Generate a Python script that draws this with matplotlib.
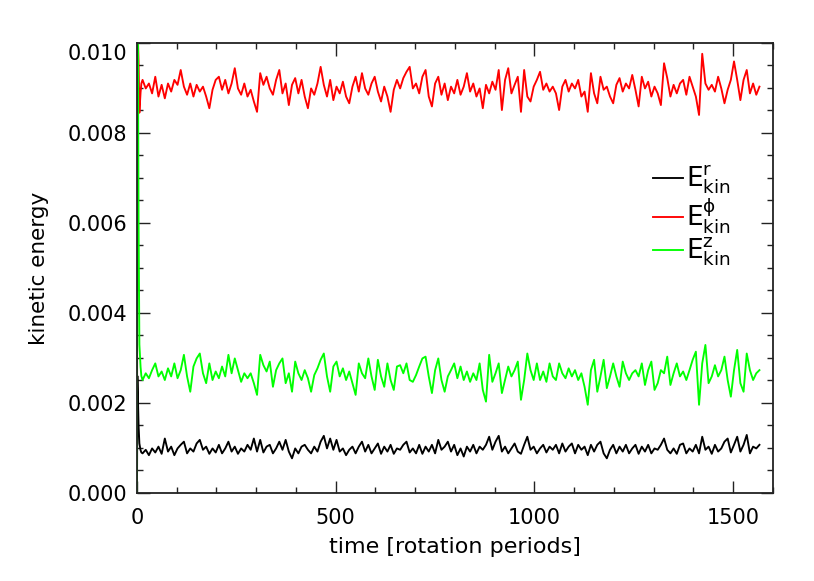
import numpy as np
import matplotlib
matplotlib.use("Agg")
import matplotlib.pyplot as plt
from matplotlib.transforms import ScaledTranslation

# start-up transient (time in rotation periods, energies in units of 1e-3)
t_start = [0, 1, 2, 4, 6, 9, 11]
ekin_r_start = [0.0, 2.6, 2.2, 1.5, 1.1, 0.95, 0.9]
ekin_phi_start = [0.0, 10.5, 10.2, 9.6, 8.45, 8.9, 9.1]
ekin_z_start = [0.0, 14.0, 11.0, 6.0, 3.3, 2.8, 2.6]

# saturated phase, sampled every 8 rotation periods from t=14 to t=1566
t_sat = np.arange(14, 1567, 8)

ekin_r = [
    0.88, 0.96, 0.84, 0.99, 0.90, 1.03, 0.87, 1.21, 0.92, 1.03,
    0.84, 0.99, 1.07, 1.14, 0.88, 0.99, 0.92, 1.10, 1.18, 0.96,
    1.03, 0.87, 0.99, 0.90, 1.07, 0.88, 0.99, 1.14, 0.92, 1.03,
    0.87, 0.99, 0.92, 1.07, 0.96, 1.21, 0.92, 1.18, 0.90, 1.03,
    1.07, 0.88, 0.99, 1.14, 0.96, 1.18, 0.92, 0.77, 0.99, 0.88,
    1.03, 1.07, 0.96, 0.88, 1.03, 0.92, 1.14, 1.27, 0.99, 1.21,
    0.96, 1.18, 0.92, 0.99, 0.84, 0.96, 1.03, 0.88, 1.03, 1.14,
    0.92, 1.07, 0.88, 0.99, 1.10, 0.87, 1.03, 0.92, 1.07, 0.87,
    0.99, 0.96, 1.07, 1.14, 0.90, 0.99, 0.88, 1.07, 0.87, 1.03,
    0.92, 1.07, 0.88, 1.18, 0.96, 1.03, 1.14, 0.92, 1.07, 0.84,
    0.99, 0.81, 1.03, 0.92, 1.07, 0.88, 1.03, 0.96, 1.07, 1.25,
    0.96, 1.14, 1.27, 0.92, 1.03, 0.88, 0.99, 1.10, 0.92, 0.87,
    1.07, 1.25, 0.96, 1.03, 0.88, 0.99, 1.07, 0.90, 1.03, 0.96,
    1.07, 0.88, 1.10, 0.92, 1.03, 1.10, 0.88, 1.07, 0.96, 1.03,
    0.84, 1.07, 0.92, 1.07, 1.14, 0.88, 0.77, 0.96, 1.07, 0.88,
    1.03, 0.92, 1.07, 0.88, 0.99, 1.07, 0.87, 1.03, 0.92, 1.07,
    0.88, 0.99, 0.96, 1.07, 1.21, 0.96, 0.88, 0.99, 0.87, 1.07,
    1.10, 0.88, 0.99, 0.92, 1.07, 0.88, 1.25, 0.96, 1.03, 0.87,
    1.07, 0.92, 0.99, 1.14, 1.21, 0.90, 1.07, 1.25, 0.92, 1.07,
    1.29, 0.88, 1.03, 0.99, 1.07,
]

ekin_phi = [
    9.18, 8.99, 9.10, 8.88, 9.25, 8.81, 9.07, 8.77, 9.10, 8.92,
    9.18, 9.07, 9.40, 9.03, 8.85, 9.10, 8.81, 9.07, 8.92, 9.03,
    8.81, 8.55, 8.96, 9.18, 9.25, 8.96, 9.18, 8.88, 9.10, 9.44,
    8.99, 8.85, 9.10, 8.81, 8.96, 8.70, 8.47, 9.33, 9.07, 9.25,
    8.99, 8.85, 9.18, 9.40, 8.88, 9.10, 8.62, 9.07, 9.22, 8.88,
    9.18, 8.81, 8.55, 8.99, 8.85, 9.10, 9.47, 9.07, 8.81, 9.18,
    8.73, 9.03, 8.88, 9.14, 8.81, 8.66, 9.03, 9.25, 8.92, 9.33,
    8.99, 8.85, 9.10, 9.25, 8.92, 8.70, 9.03, 8.81, 8.47, 8.96,
    9.18, 8.99, 9.22, 9.36, 9.47, 8.99, 9.10, 8.88, 9.25, 9.40,
    8.81, 8.59, 9.10, 9.25, 8.85, 9.10, 8.73, 9.03, 8.88, 9.18,
    8.85, 9.03, 9.33, 8.92, 9.10, 8.81, 8.99, 8.55, 9.07, 8.88,
    9.14, 8.96, 9.40, 8.51, 9.18, 9.44, 8.88, 9.07, 9.25, 8.47,
    9.40, 8.81, 8.70, 9.03, 9.18, 9.36, 8.96, 9.10, 8.92, 9.03,
    8.88, 8.51, 9.03, 9.18, 8.92, 9.10, 8.99, 9.18, 8.81, 8.92,
    8.47, 9.33, 8.88, 8.66, 9.25, 8.96, 9.03, 8.81, 8.66, 9.07,
    9.22, 8.92, 9.10, 8.99, 9.29, 8.96, 8.59, 9.25, 8.99, 9.14,
    8.81, 9.03, 8.88, 8.62, 9.55, 9.22, 8.81, 9.07, 8.88, 9.10,
    9.18, 8.85, 9.25, 9.03, 8.81, 8.40, 9.76, 9.10, 8.96, 9.07,
    8.92, 9.25, 8.99, 8.66, 8.96, 9.18, 9.59, 9.18, 8.73, 9.18,
    9.40, 8.88, 9.10, 8.85, 9.03,
]

ekin_z = [
    2.51, 2.66, 2.55, 2.73, 2.88, 2.59, 2.70, 2.51, 2.77, 2.59,
    2.88, 2.55, 2.73, 3.07, 2.59, 2.25, 2.81, 2.99, 3.10, 2.66,
    2.44, 2.88, 2.51, 2.70, 2.55, 2.81, 2.59, 3.07, 2.66, 2.99,
    2.73, 2.47, 2.66, 2.55, 2.66, 2.44, 2.18, 3.07, 2.84, 2.70,
    2.92, 2.36, 2.73, 2.88, 2.99, 2.44, 2.66, 2.25, 2.92, 2.66,
    2.51, 2.73, 2.55, 2.25, 2.62, 2.77, 2.96, 3.10, 2.59, 2.25,
    2.81, 2.92, 2.59, 2.77, 2.51, 2.70, 2.44, 2.18, 2.88, 2.66,
    2.55, 2.99, 2.59, 2.29, 2.96, 2.59, 2.36, 2.88, 2.51, 2.29,
    2.81, 2.84, 2.66, 2.88, 2.51, 2.47, 2.62, 2.81, 2.99, 3.03,
    2.59, 2.22, 2.73, 2.99, 2.51, 2.25, 2.59, 2.73, 2.88, 2.55,
    2.81, 2.51, 2.70, 2.47, 2.66, 2.51, 2.88, 2.29, 2.03, 3.07,
    2.47, 2.66, 2.88, 2.22, 2.51, 2.81, 2.59, 2.73, 2.92, 2.07,
    2.51, 3.10, 2.73, 2.51, 2.88, 2.51, 2.70, 2.47, 2.88, 2.59,
    2.51, 2.88, 2.66, 2.55, 2.77, 2.59, 2.73, 2.51, 2.66, 2.36,
    1.96, 2.73, 2.96, 2.25, 2.59, 2.96, 2.33, 2.59, 2.88, 2.59,
    2.36, 2.92, 2.66, 2.51, 2.66, 2.73, 2.59, 2.88, 2.40, 2.73,
    2.92, 2.29, 2.44, 2.73, 2.66, 3.03, 2.40, 2.66, 2.88, 2.59,
    2.70, 2.51, 2.73, 2.96, 3.14, 1.96, 2.88, 3.29, 2.44, 2.59,
    2.84, 2.59, 2.73, 3.03, 2.51, 2.14, 2.73, 3.18, 2.44, 2.25,
    3.10, 2.73, 2.51, 2.66, 2.73,
]

t = np.concatenate([t_start, t_sat])
series = [
    (np.concatenate([ekin_r_start, ekin_r]) * 1e-3, "black", r"$E^{r}_{kin}$"),
    (np.concatenate([ekin_phi_start, ekin_phi]) * 1e-3, "#ff0000", r"$E^{\phi}_{kin}$"),
    (np.concatenate([ekin_z_start, ekin_z]) * 1e-3, "#00ff00", r"$E^{z}_{kin}$"),
]

plt.rcParams["font.family"] = "DejaVu Sans"
plt.rcParams["mathtext.default"] = "regular"

fig = plt.figure(figsize=(8.14, 5.81), dpi=100, facecolor="white")
ax = fig.add_axes([0.1683, 0.1515, 0.7813, 0.7745])

for y, c, lab in series:
    ax.plot(t, y, color=c, lw=1.35, label=lab)

ax.set_xlim(0, 1600)
ax.set_ylim(0, 0.010)
ax.set_xticks([0, 500, 1000, 1500])
ax.set_xticks(np.arange(0, 1601, 100), minor=True)
ax.set_yticks(np.arange(0, 0.0101, 0.002))
ax.set_yticks(np.arange(0, 0.0101, 0.0005), minor=True)
ax.yaxis.set_major_formatter(matplotlib.ticker.FormatStrFormatter("%.3f"))

ax.tick_params(which="both", direction="in", top=True, right=True, width=1.0,
               labelsize=15, color="#222222")
ax.tick_params(which="major", length=9)
ax.tick_params(which="minor", length=4.5)
ax.tick_params(axis="x", which="major", pad=11)
ax.tick_params(axis="y", which="major", pad=7)
for sp in ax.spines.values():
    sp.set_linewidth(1.3)
    sp.set_color("#222222")

# IDL draws the top y label a bit below the frame
top_lab = ax.yaxis.get_major_ticks()[-1].label1
top_lab.set_transform(top_lab.get_transform()
                      + ScaledTranslation(0, -0.09, fig.dpi_scale_trans))

ax.set_xlabel("time [rotation periods]", fontsize=16, labelpad=6)
ax.set_ylabel("kinetic energy", fontsize=15.5, labelpad=13)

ax.legend(loc="center left", bbox_to_anchor=(0.811, 0.615), frameon=False,
          fontsize=19, handlelength=1.15, handletextpad=0.1,
          labelspacing=0.0, borderpad=0, borderaxespad=0)

fig.savefig("out.png", dpi=100)
